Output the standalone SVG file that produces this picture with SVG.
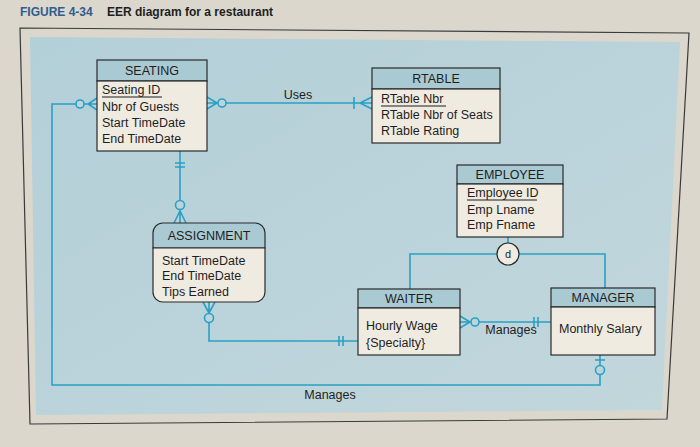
<svg xmlns="http://www.w3.org/2000/svg" width="700" height="447" viewBox="0 0 700 447">
<defs>
<style>
text{font-family:"Liberation Sans",Arial,sans-serif;font-size:12.5px;fill:#1e1e1e}
.hdr{fill:#a9c9d3;stroke:#2a2a2a;stroke-width:1.2}
.body{fill:#f0ebe1;stroke:#2a2a2a;stroke-width:1.2}
.c{fill:none;stroke:#2aa0c4;stroke-width:1.6}
.o{fill:#bcd5dc;stroke:#2aa0c4;stroke-width:1.6}
.t{text-anchor:middle}
.u{stroke:#1e1e1e;stroke-width:1}
</style>
<linearGradient id="pg" x1="0" y1="0" x2="1" y2="1">
<stop offset="0" stop-color="#b3cfd8"/>
<stop offset="1" stop-color="#c2d7dc"/>
</linearGradient>
</defs>
<rect width="700" height="447" fill="#dbd7cc"/>
<text x="20" y="16" style="font-weight:bold;font-size:12px;fill:#2f5d8c">FIGURE 4-34</text>
<text x="107" y="16" style="font-weight:bold;font-size:12px">EER diagram for a restaurant</text>
<polygon points="20,28 689,33 667,419 30,424" fill="none" stroke="#3a3a3a" stroke-width="1.2"/>
<polygon points="30,37 680,42 662,410 36,415" fill="url(#pg)"/>

<g id="connectors">
<!-- Uses -->
<path class="c" d="M207,103 H372 M207,97 L217,103 L207,109 M372,97 L360,103 L372,109 M354,97 V109"/>
<circle class="o" cx="222" cy="103" r="4"/>
<text x="298" y="99" class="t">Uses</text>
<!-- Seating - Manager (Manages) -->
<path class="c" d="M97,104 H52 V385 H600 V355 M97,98 L88,104 L97,110 M595,360 H605"/>
<circle class="o" cx="80" cy="104" r="4"/>
<circle class="o" cx="600" cy="370" r="4.5"/>
<text x="330" y="399" class="t">Manages</text>
<!-- Seating - Assignment -->
<path class="c" d="M180,151 V223 M175,163 H185 M175,167 H185 M174,223 L180,211 L186,223"/>
<circle class="o" cx="180" cy="205" r="4.5"/>
<!-- Assignment - Waiter -->
<path class="c" d="M209,302 V341 H358 M203,302 L209,313 L215,302 M339,336 V346 M343,336 V346"/>
<circle class="o" cx="209" cy="318" r="4.5"/>
<!-- Waiter - Manager (Manages) -->
<path class="c" d="M460,322 H551 M460,316 L470,322 L460,328 M534,317 V327 M538,317 V327"/>
<circle class="o" cx="475" cy="322" r="4"/>
<text x="511" y="334" class="t">Manages</text>
<!-- specialization -->
<path class="c" d="M508,237 V243 M497,254 H410 V289 M519,254 H605 V288"/>
</g>

<g id="seating">
<rect class="hdr" x="97" y="60" width="110" height="21"/>
<rect class="body" x="97" y="81" width="110" height="70"/>
<text x="152" y="75" class="t">SEATING</text>
<text x="102" y="94">Seating ID</text>
<line class="u" x1="102" y1="97" x2="162" y2="97"/>
<text x="102" y="111">Nbr of Guests</text>
<text x="102" y="127">Start TimeDate</text>
<text x="102" y="143">End TimeDate</text>
</g>

<g id="rtable">
<rect class="hdr" x="372" y="68" width="128" height="21"/>
<rect class="body" x="372" y="89" width="128" height="54"/>
<text x="436" y="83" class="t">RTABLE</text>
<text x="381" y="103">RTable Nbr</text>
<line class="u" x1="381" y1="106" x2="446" y2="106"/>
<text x="381" y="119">RTable Nbr of Seats</text>
<text x="381" y="135">RTable Rating</text>
</g>

<g id="employee">
<rect class="hdr" x="457" y="165" width="106" height="19"/>
<rect class="body" x="457" y="184" width="106" height="53"/>
<text x="510" y="179" class="t">EMPLOYEE</text>
<text x="467" y="197">Employee ID</text>
<line class="u" x1="467" y1="200" x2="537" y2="200"/>
<text x="467" y="214">Emp Lname</text>
<text x="467" y="229">Emp Fname</text>
</g>

<g id="disjoint">
<circle cx="508" cy="254" r="11" fill="#f0ebe1" stroke="#2a2a2a" stroke-width="1.2"/>
<text x="508" y="258" class="t" style="font-size:11px">d</text>
</g>

<g id="assignment">
<path class="hdr" d="M163,223 H255 A10,10 0 0 1 265,233 V248 H153 V233 A10,10 0 0 1 163,223 Z"/>
<path class="body" d="M153,248 H265 V292 A10,10 0 0 1 255,302 H163 A10,10 0 0 1 153,292 Z"/>
<text x="209" y="240" class="t">ASSIGNMENT</text>
<text x="162" y="265">Start TimeDate</text>
<text x="162" y="280">End TimeDate</text>
<text x="162" y="296">Tips Earned</text>
</g>

<g id="waiter">
<rect class="hdr" x="358" y="289" width="102" height="19"/>
<rect class="body" x="358" y="308" width="102" height="47"/>
<text x="409" y="303" class="t">WAITER</text>
<text x="366" y="330">Hourly Wage</text>
<text x="366" y="347">{Specialty}</text>
</g>

<g id="manager">
<rect class="hdr" x="551" y="288" width="104" height="19"/>
<rect class="body" x="551" y="307" width="104" height="48"/>
<text x="603" y="302" class="t">MANAGER</text>
<text x="559" y="333">Monthly Salary</text>
</g>
</svg>
